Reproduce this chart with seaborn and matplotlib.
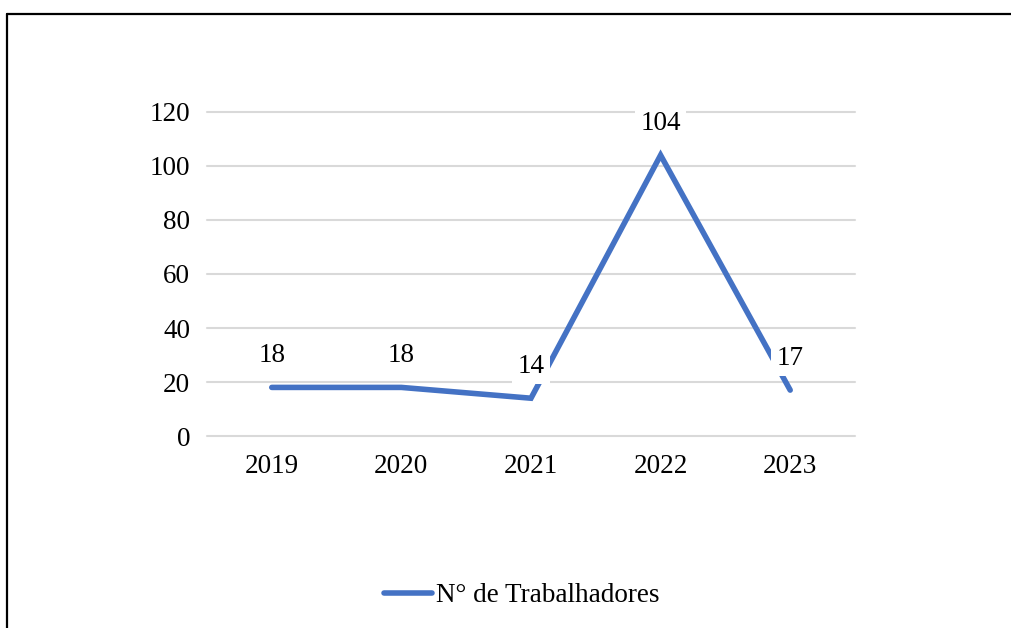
import matplotlib
matplotlib.use('Agg')
import matplotlib.pyplot as plt
from matplotlib.lines import Line2D
import seaborn as sns
import pandas as pd

anos = ['2019', '2020', '2021', '2022', '2023']
trabalhadores = [18, 18, 14, 104, 17]
rotulo_serie = 'N° de Trabalhadores'

df = pd.DataFrame({'ano': anos, 'valor': trabalhadores})

sns.set_style('white')
plt.rcParams['font.family'] = ['Liberation Serif', 'DejaVu Serif']
plt.rcParams['text.color'] = 'black'
plt.rcParams['xtick.color'] = 'black'
plt.rcParams['ytick.color'] = 'black'

fs = 19.5
fig = plt.figure(figsize=(10.11, 6.28), dpi=100)
ax = fig.add_axes([0.2047, 0.3057, 0.641, 0.516])

sns.lineplot(data=df, x='ano', y='valor', ax=ax, color='#4472C4',
             linewidth=4.0, label=rotulo_serie, sort=False,
             solid_capstyle='round', solid_joinstyle='miter', zorder=3)

for i, v in enumerate(trabalhadores):
    ax.annotate(str(v), (i, v), xytext=(0, 23), textcoords='offset points',
                ha='center', va='center', fontsize=fs, zorder=5, color='black',
                bbox=dict(boxstyle='square,pad=0.2', fc='white', ec='none'))

ax.set_xlim(-0.5, 4.5)
ax.set_ylim(0, 120)
ax.set_yticks(range(0, 121, 20))
ax.grid(axis='y', color='#D9D9D9', linewidth=1.5, zorder=0)
for gl in ax.get_ygridlines():
    gl.set_clip_on(False)
ax.set_axisbelow(True)
for s in ax.spines.values():
    s.set_visible(False)
ax.tick_params(axis='both', length=0, labelsize=fs, pad=12)
ax.tick_params(axis='x', pad=13)
ax.set_xlabel('')
ax.set_ylabel('')

ax.get_legend().remove()
h = [Line2D([0], [0], color='#4472C4', linewidth=4.0, solid_capstyle='round')]
fig.legend(h, [rotulo_serie], loc='center', bbox_to_anchor=(0.516, 0.051),
           frameon=False, fontsize=fs, handlelength=1.75, handletextpad=0.15)

# moldura (topo e esquerda)
fig.add_artist(Line2D([7 / 1011, 1.0], [1 - 14 / 628, 1 - 14 / 628],
                      transform=fig.transFigure, color='black', linewidth=1.6))
fig.add_artist(Line2D([7 / 1011, 7 / 1011], [0.0, 1 - 14 / 628],
                      transform=fig.transFigure, color='black', linewidth=1.6))

fig.savefig('out.png', dpi=100)
